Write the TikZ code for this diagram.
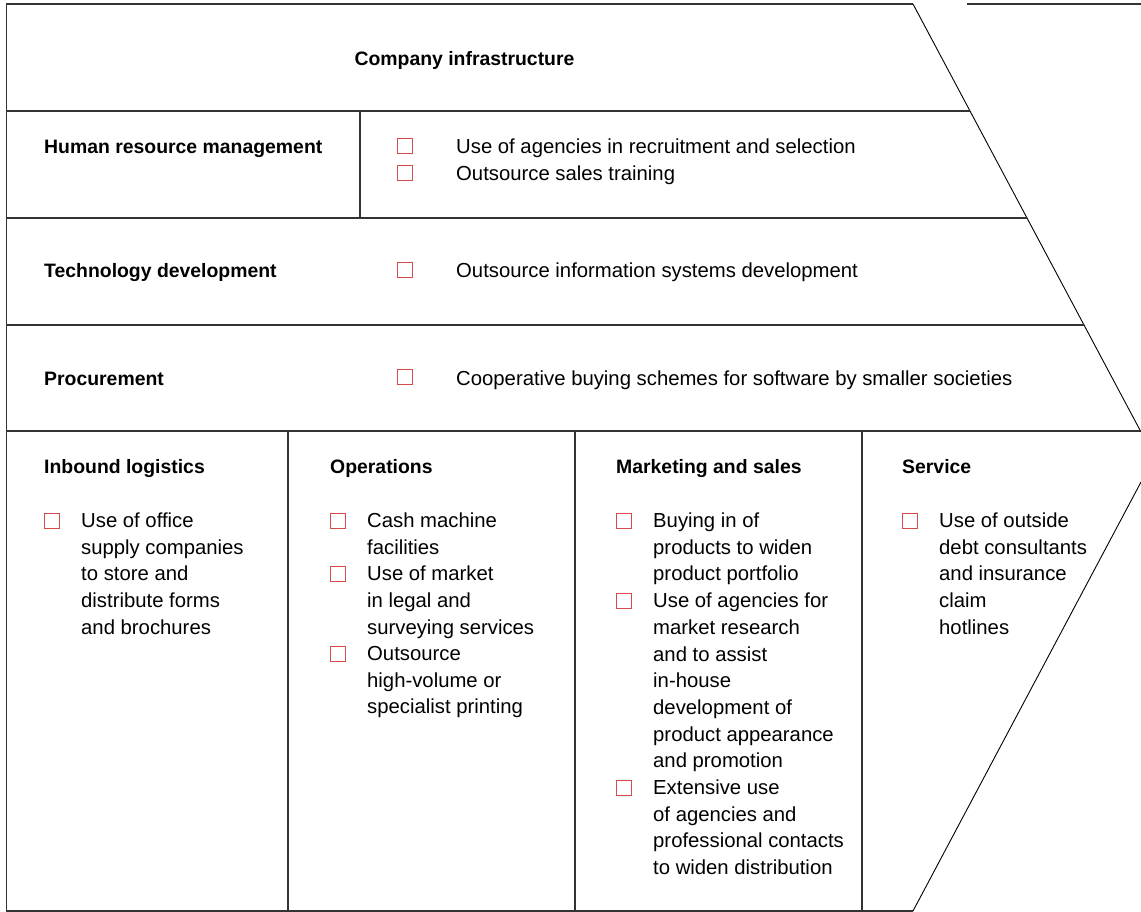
\documentclass[tikz,border=0pt]{standalone}
\usepackage{fontspec}
\setmainfont{Liberation Sans}

\definecolor{boxred}{HTML}{D64A4A}

\def\xLeft{6.5}
\def\xTip{913}
\def\yTop{4}
\def\yBottom{911}
\def\yFirst{528.3}
\def\lineStep{26.7}

\begin{document}
\begin{tikzpicture}[x=1pt, y=-1pt,
    rule/.style={line width=1.3pt, black!80},
    slant/.style={line width=0.9pt},
    heading/.style={font=\bfseries\fontsize{19.4}{26.7}\selectfont, inner sep=0},
    entry/.style={font=\fontsize{20.3}{26.7}\selectfont, inner sep=0, align=left, anchor=base west},
    % the strut fixes how far the first baseline sits below the top edge
    block/.style={entry, anchor=north west, execute at begin node=\strut},
    tick/.style={draw=boxred, line width=0.8pt, inner sep=0, minimum size=15pt, anchor=south west}]
  \useasboundingbox (0, 0) rectangle (1141, 912);

  % -- outline and chevron edges
  \draw[rule] (\xTip, \yTop) -- (\xLeft, \yTop) -- (\xLeft, \yBottom) -- (\xTip, \yBottom);
  \draw[rule] (967, \yTop) -- (1141, \yTop);
  \draw[slant] (\xTip, \yTop) -- (1141, 432);
  \draw[slant] (1141, 482) -- (\xTip, \yBottom);

  % -- rows of the support activities
  \foreach\y in {111, 218, 325, 431} {
    \draw[rule] (\xLeft, \y) -- ({\xTip + (\y - \yTop) / 428 * 228}, \y);
  }
  \draw[rule] (360, 111) -- (360, 218);

  % -- columns of the primary activities
  \foreach\x in {288, 575, 862} {
    \draw[rule] (\x, 431) -- (\x, \yBottom);
  }

  \node[heading, anchor=base] (infra) at (464.5, 66) {Company infrastructure};

  \foreach\n/\y/\t in {hrm/154/Human resource management,
                       tech/278/Technology development,
                       proc/385/Procurement} {
    \node[heading, anchor=base west] (\n) at (44, \y) {\t};
  }

  \foreach\n/\y/\t in {hrmA/154/Use of agencies in recruitment and selection,
                       hrmB/181/Outsource sales training,
                       techA/278/Outsource information systems development,
                       procA/385/Cooperative buying schemes for software by smaller societies} {
    \node[tick] (\n tick) at (397, \y) {};
    \node[entry] (\n) at (456, \y) {\t};
  }

  \foreach\n/\x/\t in {inbound/44/Inbound logistics, ops/330/Operations,
                       mkt/616/Marketing and sales, serv/902/Service} {
    \node[heading, anchor=base west] (\n) at (\x, 473) {\t};
  }

  % -- \k counts lines down from the first entry line
  \foreach\n/\x/\k/\t in {
      inbA/44/0/{Use of office\\supply companies\\to store and\\distribute forms\\and brochures},
      opsA/330/0/{Cash machine\\facilities},
      opsB/330/2/{Use of market\\in legal and\\surveying services},
      opsC/330/5/{Outsource\\high-volume or\\specialist printing},
      mktA/616/0/{Buying in of\\products to widen\\product portfolio},
      mktB/616/3/{Use of agencies for\\market research\\and to assist\\in-house\\development of\\product appearance\\and promotion},
      mktC/616/10/{Extensive use\\of agencies and\\professional contacts\\to widen distribution},
      servA/902/0/{Use of outside\\debt consultants\\and insurance\\claim\\hotlines}} {
    \edef\y{\yFirst + \lineStep * \k}
    \node[tick] (\n tick) at (\x, \y) {};
    \node[block] (\n) at (\x + 37, \y - 15.7) {\t};
  }

\end{tikzpicture}
\end{document}
